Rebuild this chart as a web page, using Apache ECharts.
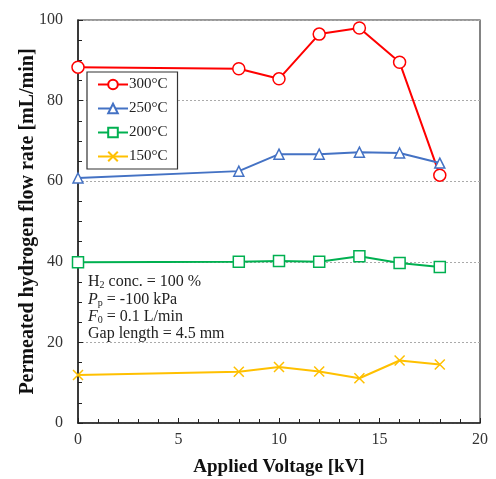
<!DOCTYPE html>
<html><head><meta charset="utf-8">
<script src="https://cdn.jsdelivr.net/npm/echarts@6/dist/echarts.min.js"></script>
<style>html,body{margin:0;padding:0;background:#fff}#c{width:496px;height:479px}</style>
</head><body><div id="c"></div>
<script>
var voltages = [0, 8, 10, 12, 14, 16, 18];
var s300 = [88.3, 87.9, 85.4, 96.5, 98.0, 89.5, 61.5];
var s250 = [60.8, 62.5, 66.7, 66.7, 67.2, 67.0, 64.5];
var s200 = [39.9, 40.0, 40.2, 40.0, 41.4, 39.7, 38.7];
var s150 = [11.9, 12.7, 13.9, 12.8, 11.1, 15.5, 14.5];
var names = ['300°C', '250°C', '200°C', '150°C'];
var xTicks = [0, 5, 10, 15, 20];
var yTicks = [0, 20, 40, 60, 80, 100];

var serif = '"Liberation Serif", "Times New Roman", serif';
function pairs(arr){ return voltages.map(function(v,i){ return [v, arr[i]]; }); }
function mk(name, data, color, symbol, size){
  return {
    name: name, type: 'line', data: pairs(data), symbol: symbol, symbolSize: size,
    lineStyle: {color: color, width: 2},
    itemStyle: {color: '#fff', borderColor: color, borderWidth: 1.5},
    z: 3
  };
}
var subStyle = {fontSize: 10, fontFamily: serif, verticalAlign: 'bottom', padding: [7,0,0,0], fill: '#222'};
var itStyle = {fontStyle: 'italic', fontSize: 16, fontFamily: serif, fill: '#222'};
function note(y, text){
  return {type: 'text', x: 88, y: y, z: 10, style: {
    text: text, font: '16px ' + serif, fill: '#222', verticalAlign: 'middle',
    rich: {i: itStyle, sub: subStyle}
  }};
}
var chart = echarts.init(document.getElementById('c'));
chart.setOption({
  animation: false,
  backgroundColor: '#fff',
  grid: {left: 78, right: 16, top: 20, bottom: 56, show: true, borderColor: '#333', borderWidth: 1.2,
         containLabel: false, outerBoundsMode: 'none'},
  xAxis: {
    type: 'value', min: xTicks[0], max: xTicks[xTicks.length-1], interval: 5,
    name: 'Applied Voltage [kV]', nameLocation: 'middle', nameGap: 35, nameMoveOverlap: false,
    nameTextStyle: {fontFamily: serif, fontWeight: 'bold', fontSize: 19, color: '#111'},
    axisLine: {lineStyle: {color: '#222', width: 1.5}},
    axisTick: {inside: true, length: 5, lineStyle: {color: '#222'}},
    minorTick: {show: true, splitNumber: 5, length: 4, lineStyle: {color: '#222'}},
    axisLabel: {fontFamily: serif, fontSize: 16, color: '#333', margin: 9},
    splitLine: {show: false}
  },
  yAxis: {
    type: 'value', min: yTicks[0], max: yTicks[yTicks.length-1], interval: 20,
    name: 'Permeated hydrogen flow rate [mL/min]', nameLocation: 'middle', nameGap: 40, nameMoveOverlap: false,
    nameTextStyle: {fontFamily: serif, fontWeight: 'bold', fontSize: 20, color: '#111'},
    axisLine: {show: true, lineStyle: {color: '#222', width: 1.5}},
    axisTick: {show: true, inside: true, length: 5, lineStyle: {color: '#222'}},
    minorTick: {show: true, splitNumber: 4, length: 4, lineStyle: {color: '#222'}},
    axisLabel: {fontFamily: serif, fontSize: 16, color: '#333', margin: 15},
    splitLine: {show: true, lineStyle: {color: '#aaa', type: [2, 2], width: 1}}
  },
  legend: {
    orient: 'vertical', left: 87, top: 72,
    data: names,
    backgroundColor: '#fff', borderColor: '#333', borderWidth: 1.2,
    padding: [5, 10, 5, 10], itemGap: 9, itemWidth: 30, itemHeight: 12,
    textStyle: {fontFamily: serif, fontSize: 15, color: '#222', padding: [0,0,0,-4]}
  },
  graphic: [
    note(282, 'H{sub|2} conc. = 100 %'),
    note(299.5, '{i|P}{sub|p} = -100 kPa'),
    note(317, '{i|F}{sub|0} = 0.1 L/min'),
    note(334, 'Gap length = 4.5 mm')
  ],
  series: [
    mk(names[0], s300, '#FF0000', 'circle', 12),
    mk(names[1], s250, '#4472C4', 'triangle', 10),
    mk(names[2], s200, '#00B050', 'rect', 11),
    mk(names[3], s150, '#FFC000', 'path://M0,0L10,10M10,0L0,10', 10)
  ]
});
</script></body></html>
